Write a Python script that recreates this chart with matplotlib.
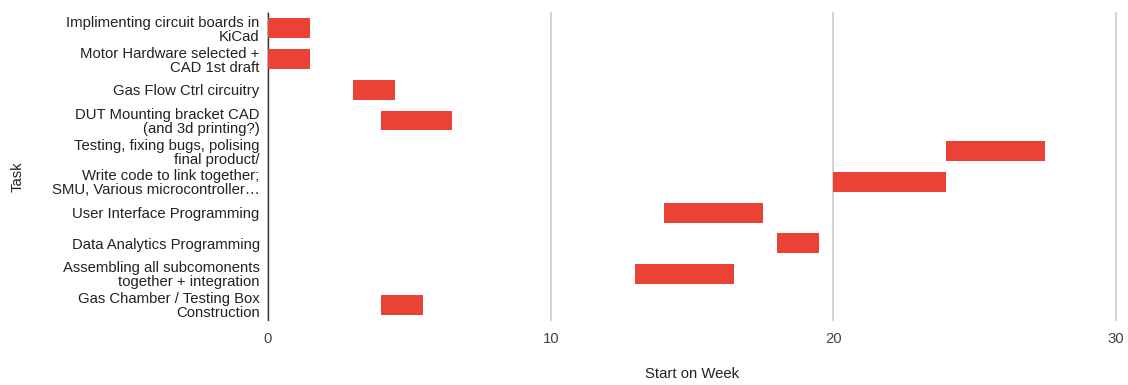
import matplotlib
matplotlib.use("Agg")
import matplotlib.pyplot as plt

plt.rcParams['font.family'] = ['Liberation Sans', 'DejaVu Sans']

# Gantt data (weeks)
tasks = [
    "Implimenting circuit boards in\nKiCad",
    "Motor Hardware selected +\nCAD 1st draft",
    "Gas Flow Ctrl circuitry",
    "DUT Mounting bracket CAD\n(and 3d printing?)",
    "Testing, fixing bugs, polising\nfinal product/",
    "Write code to link together;\nSMU, Various microcontroller\u2026",
    "User Interface Programming",
    "Data Analytics Programming",
    "Assembling all subcomonents\ntogether + integration",
    "Gas Chamber / Testing Box\nConstruction",
]
start = [0, 0, 3, 4, 24, 20, 14, 18, 13, 4]
end = [1.5, 1.5, 4.5, 6.5, 27.5, 24, 17.5, 19.5, 16.5, 5.5]
duration = [e - s for s, e in zip(start, end)]

fig = plt.figure(figsize=(11.28, 3.85), dpi=100)
ax = fig.add_axes([0.2376, 0.169, 0.7518, 0.797])

ypos = list(range(len(tasks)))
ax.barh(ypos, duration, left=start, height=0.65, color="#EA4335", zorder=3)

ax.set_xlim(0, 30)
ax.set_ylim(len(tasks) - 0.5, -0.5)
ax.set_xticks([0, 10, 20, 30])
ax.set_yticks(ypos)
ax.set_yticklabels(tasks, fontsize=10.7, color="#222222", linespacing=1.0)
ax.tick_params(axis='y', length=0, pad=6)
ax.tick_params(axis='x', length=0, pad=9, labelsize=10.7, colors="#444444")
ax.xaxis.grid(True, color="#cccccc", linewidth=1.2)
for gl in ax.get_xgridlines():
    gl.set_clip_on(False)
ax.set_axisbelow(True)

for s in ['top', 'right', 'bottom']:
    ax.spines[s].set_visible(False)
ax.spines['left'].set_color("#333333")
ax.spines['left'].set_linewidth(1)

ax.set_xlabel("Start on Week", fontsize=10.7, color="#222222", labelpad=15)
fig.text(0.016, 0.54, "Task", rotation=90, fontsize=10.7, color="#222222",
         ha='center', va='center')

fig.savefig("out.png", dpi=100)
